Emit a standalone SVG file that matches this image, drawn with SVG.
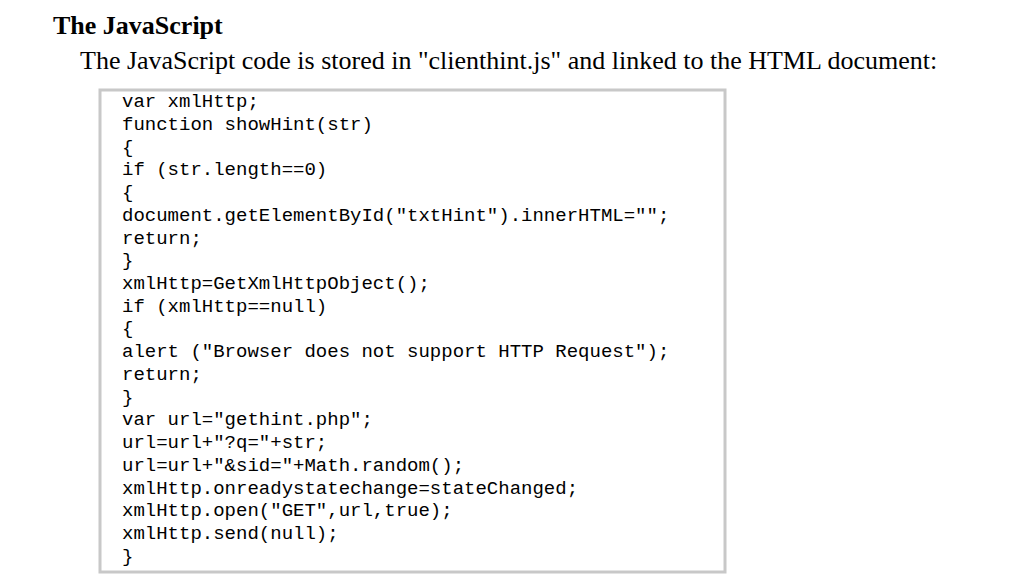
<svg xmlns="http://www.w3.org/2000/svg" width="1024" height="576" viewBox="0 0 1024 576">
<style>
.t{font-family:"Liberation Serif",serif;fill:#000}
.c{font-family:"Liberation Mono",monospace;font-size:19px;fill:#000}
</style>
<rect width="1024" height="576" fill="#fff"/>
<text class="t" x="53" y="34" font-size="26" font-weight="bold">The JavaScript</text>
<text class="t" x="80" y="69" font-size="26">The JavaScript code is stored in "clienthint.js" and linked to the HTML document:</text>
<g id="code">
<rect x="100" y="90" width="625" height="482" fill="#fff" stroke="#c8c8c8" stroke-width="3"/>
<text class="c" x="122" xml:space="preserve">
<tspan x="122" y="107">var xmlHttp;</tspan>
<tspan x="122" y="130">function showHint(str)</tspan>
<tspan x="122" y="153">{</tspan>
<tspan x="122" y="175">if (str.length==0)</tspan>
<tspan x="122" y="198">{</tspan>
<tspan x="122" y="221">document.getElementById("txtHint").innerHTML="";</tspan>
<tspan x="122" y="244">return;</tspan>
<tspan x="122" y="266">}</tspan>
<tspan x="122" y="289">xmlHttp=GetXmlHttpObject();</tspan>
<tspan x="122" y="312">if (xmlHttp==null)</tspan>
<tspan x="122" y="334">{</tspan>
<tspan x="122" y="357">alert ("Browser does not support HTTP Request");</tspan>
<tspan x="122" y="380">return;</tspan>
<tspan x="122" y="403">}</tspan>
<tspan x="122" y="425">var url="gethint.php";</tspan>
<tspan x="122" y="448">url=url+"?q="+str;</tspan>
<tspan x="122" y="471">url=url+"&amp;sid="+Math.random();</tspan>
<tspan x="122" y="494">xmlHttp.onreadystatechange=stateChanged;</tspan>
<tspan x="122" y="516">xmlHttp.open("GET",url,true);</tspan>
<tspan x="122" y="539">xmlHttp.send(null);</tspan>
<tspan x="122" y="562">}</tspan>
</text>
</g>
</svg>
